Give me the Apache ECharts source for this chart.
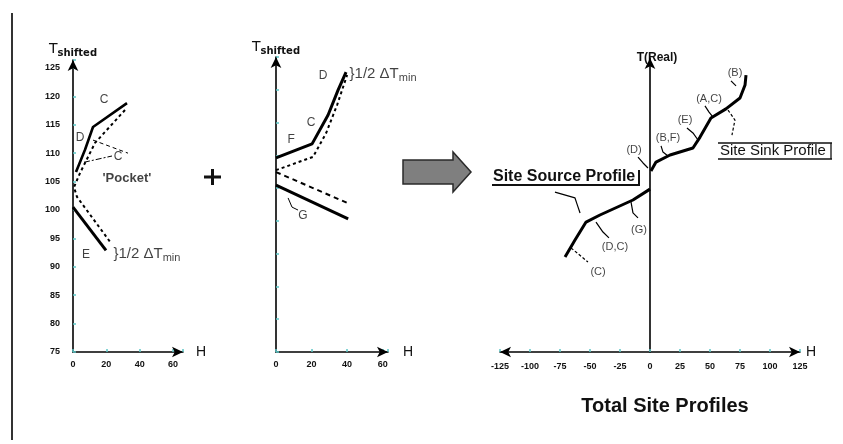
<!DOCTYPE html>
<html><head><meta charset="utf-8">
<script src="https://cdn.jsdelivr.net/npm/echarts@6/dist/echarts.min.js"></script>
<style>html,body{margin:0;padding:0;background:#fff}#c{width:843px;height:444px}</style>
</head><body><div id="c"></div>
<script>
// ---------- Panel 1 (left): shifted temperature profiles with pocket ----------
const leftSourceUpper = [[1.8,106.7],[7.2,110.6],[12.0,114.6],[32.4,118.8]];
const leftShifted     = [[31.2,117.6],[13.2,111.8],[4.2,106.5],[0.6,104.0],[2.4,102.3],[22.2,94.4]];
const leftSourceLower = [[0,100.5],[19.8,92.9]];
const leftPocketA     = [[12,112.3],[33,110.0]];
const leftPocketB     = [[6.6,108.4],[23.4,109.5]];
const leftLetters     = [{name:'C',value:[18.6,119.4]},{name:'D',value:[4.2,112.7]},{name:'C',value:[27,109.3]},{name:'E',value:[7.8,92.1]}];
const leftPocketText  = [{name:"'Pocket'",value:[17.4,105.6]}];
const leftDeltaText   = [{name:'}{a|1/2 ΔT}{b|min}',value:[24,92.3]}];

// ---------- Panel 2 (middle) ----------
const midSinkSolid    = [[0,59.2],[20.3,63.5],[29.3,72.3],[34.9,79.9],[39.4,85.4]];
const midSinkDashed   = [[0,55.5],[20.8,59.5],[28.2,66.8],[34.4,75.4],[40.0,84.5]];
const midLowerDashed  = [[0,54.9],[40,45.5]];
const midLowerSolid   = [[0,50.9],[40.6,40.6]];
const midGLeader      = [[6.8,47.0],[9.0,44.2],[12.4,43.3]];
const midLetters      = [{name:'D',value:[26.5,84.2]},{name:'C',value:[19.7,69.9]},{name:'F',value:[8.5,64.7]},{name:'G',value:[15.2,41.5]}];
const midDeltaText    = [{name:'}{a|1/2 ΔT}{b|min}',value:[41.1,84.8]}];

// ---------- Panel 3 (right): total site profiles ----------
const siteSink   = [[0.8,61.6],[5,64.6],[16.7,67.0],[35.8,69.4],[41.7,73.1],[50.8,79.6],[63.3,82.7],[75,86.4],[79.2,90.8],[80,94.2]];
const siteSource = [[0,55.4],[-14.2,51.7],[-41.7,46.6],[-53.3,44.2],[-62.5,38.1],[-70.8,32.3]];
const siteLabels = [
  {name:'(B)',value:[70.8,94.9]},{name:'(A,C)',value:[49.2,86.1]},{name:'(E)',value:[29.2,78.9]},
  {name:'(B,F)',value:[15,72.8]},{name:'(D)',value:[-13.3,68.7]},{name:'(G)',value:[-9.2,41.5]},
  {name:'(D,C)',value:[-29.2,35.7]},{name:'(C)',value:[-43.3,27.2]}
];
const leaderSolid = [
  [[-10,66.3],[-5.8,64.3],[-1.7,62.6]],
  [[9.2,70.1],[10.8,68.0],[15,66.7]],
  [[30.8,76.2],[35.8,74.5],[40,72.1]],
  [[45.8,83.7],[49.2,81.6],[52.5,79.9]],
  [[67.5,92.2],[71.7,90.5]],
  [[-79.2,54.4],[-62.5,52.4],[-60.8,50.3],[-58.3,47.3]],
  [[-15.8,51.0],[-14.2,47.3],[-10,45.6]],
  [[-45,44.2],[-39.2,40.8],[-34.2,38.8]]
];
const leaderDashed = [
  [[65,82.3],[70.8,78.9],[68.3,73.8]],
  [[-65.8,35.4],[-51.7,30.6]]
];

const FONT = '"Liberation Sans", Arial, sans-serif';
const tickStyle = {show:true, inside:true, length:3, lineStyle:{color:'#5cc6c6', width:1.5}};
const axisLine = sym => ({show:true, onZero:true, symbol:sym, symbolSize:[8,11], lineStyle:{color:'#000', width:1.6}});
const tickLbl = (step, margin) => ({fontSize:9, fontWeight:'bold', color:'#111', fontFamily:FONT, margin,
  formatter: v => (Math.abs(v % step) < 1e-6 ? String(v) : '')});
const tName = {rich:{a:{fontSize:14, fontFamily:'DejaVu Sans', color:'#111'}, b:{fontSize:10, fontFamily:'DejaVu Sans', fontWeight:'bold', color:'#111', padding:[7,0,0,0]}}};
const deltaRich = {a:{fontSize:15, fontFamily:FONT, color:'#111'}, b:{fontSize:11, fontFamily:FONT, color:'#111', padding:[8,0,0,0]}};

function line(i, data, width, type) {
  return {type:'line', xAxisIndex:i, yAxisIndex:i, data, symbol:'none', silent:true, z:3,
    lineStyle:{color:'#000', width, type:type || 'solid'}};
}
function labels(i, data, opt) {
  return {type:'scatter', xAxisIndex:i, yAxisIndex:i, data, symbolSize:1, silent:true, z:4,
    itemStyle:{color:'rgba(0,0,0,0)'},
    label:Object.assign({show:true, position:'inside', formatter:p => p.name, color:'#111', fontSize:12, fontFamily:FONT}, opt || {})};
}

const series = [
  line(0, leftSourceUpper, 2.6), line(0, leftShifted, 2, [3,3]), line(0, leftSourceLower, 3),
  line(0, leftPocketA, 1, [4,3]), line(0, leftPocketB, 1, [6,2,2,2]),
  labels(0, leftLetters, {fontSize:12}),
  labels(0, leftPocketText, {position:'right', distance:0, fontSize:13, fontWeight:'bold'}),
  labels(0, leftDeltaText, {position:'right', distance:0, fontSize:15, rich:deltaRich}),
  line(1, midSinkSolid, 3), line(1, midSinkDashed, 2, [3,3]),
  line(1, midLowerDashed, 2, [5,4]), line(1, midLowerSolid, 3), line(1, midGLeader, 1),
  labels(1, midLetters, {fontSize:12}),
  labels(1, midDeltaText, {position:'right', distance:0, fontSize:15, rich:deltaRich}),
  line(2, siteSink, 3), line(2, siteSource, 3),
  labels(2, siteLabels, {fontSize:11})
];
leaderSolid.forEach(d => series.push(line(2, d, 1.2)));
leaderDashed.forEach(d => series.push(line(2, d, 1.2, [3,2])));

const chart = echarts.init(document.getElementById('c'));
chart.setOption({
  animation:false,
  backgroundColor:'#fff',
  grid:[
    {left:73, top:60, width:110, height:292},
    {left:276, top:57, width:112, height:295},
    {left:500, top:58, width:300, height:294}
  ],
  xAxis:[
    {gridIndex:0, type:'value', min:0, max:66, interval:20, axisLine:axisLine(['none','arrow']), axisTick:tickStyle,
     axisLabel:tickLbl(20, 8), splitLine:{show:false}, name:'H', nameGap:13, nameTextStyle:{fontSize:14, color:'#111', fontFamily:FONT}},
    {gridIndex:1, type:'value', min:0, max:63, interval:20, axisLine:axisLine(['none','arrow']), axisTick:tickStyle,
     axisLabel:tickLbl(20, 8), splitLine:{show:false}, name:'H', nameGap:15, nameTextStyle:{fontSize:14, color:'#111', fontFamily:FONT}},
    {gridIndex:2, type:'value', min:-125, max:125, interval:25, axisLine:axisLine(['arrow','arrow']), axisTick:tickStyle,
     axisLabel:tickLbl(25, 10), splitLine:{show:false}, name:'H', nameGap:6, nameTextStyle:{fontSize:14, color:'#111', fontFamily:FONT}}
  ],
  yAxis:[
    {gridIndex:0, type:'value', min:75, max:126.4, interval:5, axisLine:axisLine(['none','arrow']), axisTick:tickStyle,
     axisLabel:tickLbl(5, 13), splitLine:{show:false}, name:'{a|T}{b|shifted}', nameGap:2, nameTextStyle:tName},
    {gridIndex:1, type:'value', min:0, max:90, interval:10, axisLine:axisLine(['none','arrow']), axisTick:tickStyle,
     axisLabel:{show:false}, splitLine:{show:false}, name:'{a|T}{b|shifted}', nameGap:1, nameTextStyle:tName},
    {gridIndex:2, type:'value', min:0, max:100, interval:10, axisLine:axisLine(['none','arrow']), axisTick:{show:false},
     axisLabel:{show:false}, splitLine:{show:false}, name:'T(Real)', nameGap:-6,
     nameTextStyle:{fontSize:12, fontWeight:'bold', color:'#111', fontFamily:FONT, padding:[0,0,0,14]}}
  ],
  series,
  graphic:[
    {type:'line', shape:{x1:12, y1:13, x2:12, y2:440}, style:{stroke:'#333', lineWidth:2}},
    {type:'line', shape:{x1:204, y1:177, x2:221, y2:177}, style:{stroke:'#111', lineWidth:3}},
    {type:'line', shape:{x1:212.5, y1:169, x2:212.5, y2:185}, style:{stroke:'#111', lineWidth:3}},
    {type:'polygon', shape:{points:[[403,160],[453,160],[453,152],[471,172],[453,192],[453,184],[403,184]]},
     style:{fill:'#7f7f7f', stroke:'#2a2a2a', lineWidth:1.5}},
    {type:'line', shape:{x1:718, y1:143, x2:832, y2:143}, style:{stroke:'#111', lineWidth:1.3}},
    {type:'line', shape:{x1:718, y1:159, x2:832, y2:159}, style:{stroke:'#111', lineWidth:1.3}},
    {type:'line', shape:{x1:831, y1:143, x2:831, y2:159}, style:{stroke:'#111', lineWidth:1.3}},
    {type:'text', x:720, y:151, style:{text:'Site Sink Profile', fontSize:15, fontFamily:FONT, fill:'#111', verticalAlign:'middle'}},
    {type:'line', shape:{x1:492, y1:185, x2:640, y2:185}, style:{stroke:'#111', lineWidth:2}},
    {type:'line', shape:{x1:639, y1:170, x2:639, y2:185}, style:{stroke:'#111', lineWidth:2}},
    {type:'text', x:493, y:177, style:{text:'Site Source Profile', fontSize:16, fontWeight:'bold', fontFamily:FONT, fill:'#111', verticalAlign:'middle'}},
    {type:'text', x:665, y:406, style:{text:'Total Site Profiles', fontSize:20, fontWeight:'bold', fontFamily:FONT, fill:'#111', align:'center', verticalAlign:'middle'}}
  ]
});
</script>
</body></html>
